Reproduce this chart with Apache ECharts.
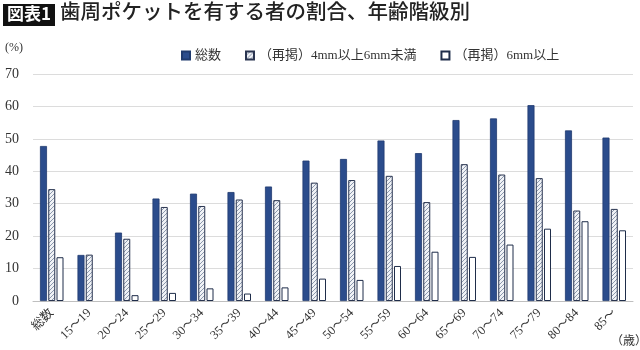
<!DOCTYPE html>
<html><head><meta charset="utf-8">
<script src="https://cdn.jsdelivr.net/npm/echarts@6/dist/echarts.min.js"></script>
<style>html,body{margin:0;padding:0;background:#fff}#c{width:640px;height:350px}</style>
</head><body><div id="c"></div>
<script>
const categories = ['総数','15～19','20～24','25～29','30～34','35～39','40～44','45～49','50～54','55～59','60～64','65～69','70～74','75～79','80～84','85～'];
const seriesNames = ['総数','（再掲）4mm以上6mm未満','（再掲）6mm以上'];
const totalValues = [47.8,14.2,21.1,31.6,33.1,33.6,35.3,43.3,43.8,49.5,45.6,55.8,56.3,60.4,52.6,50.4];
const mid4to6Values = [34.5,14.3,19.2,29.0,29.3,31.3,31.1,36.5,37.3,38.6,30.5,42.2,39.0,37.9,27.9,28.4];
const over6Values = [13.5,null,1.8,2.5,3.9,2.3,4.2,6.9,6.5,10.8,15.2,13.6,17.4,22.3,24.6,21.8];
const yTicks = [0,10,20,30,40,50,60,70];

const pc = document.createElement('canvas');
pc.width = 4; pc.height = 4;
const g = pc.getContext('2d');
g.fillStyle = '#f0f2f6'; g.fillRect(0,0,4,4);
g.strokeStyle = '#8c98ad'; g.lineWidth = 1;
g.beginPath(); g.moveTo(0,4); g.lineTo(4,0); g.moveTo(-1,1); g.lineTo(1,-1); g.moveTo(3,5); g.lineTo(5,3); g.stroke();

const serifFont = '"Liberation Serif","DejaVu Serif","Noto Sans CJK JP",serif';
const chart = echarts.init(document.getElementById('c'));
chart.setOption({
  animation:false,
  backgroundColor:'#fff',
  grid:{left:33,right:7,top:74,bottom:49,containLabel:false},
  legend:{left:176,top:44,itemWidth:8,itemHeight:8,itemGap:24,icon:'rect',
    textStyle:{fontSize:13,color:'#333',fontFamily:serifFont},
    data:seriesNames},
  xAxis:{type:'category',data:categories,
    axisLine:{lineStyle:{color:'#bfbfbf'}},axisTick:{show:false},
    axisLabel:{rotate:45,interval:0,fontSize:12.5,color:'#333',fontFamily:serifFont,margin:10}},
  yAxis:{type:'value',min:yTicks[0],max:yTicks[yTicks.length-1],interval:10,
    axisLine:{show:false},axisTick:{show:false},
    axisLabel:{fontSize:14,color:'#333',fontFamily:serifFont,margin:14},
    splitLine:{lineStyle:{color:'#dcdcdc'}}},
  series:[
    {name:seriesNames[0],type:'bar',data:totalValues,barWidth:7,barGap:'18%',
      itemStyle:{color:'#2b4c8c',borderColor:'#1f3a6e',borderWidth:0.8}},
    {name:seriesNames[1],type:'bar',data:mid4to6Values,barWidth:7,barGap:'18%',
      itemStyle:{color:{image:pc,repeat:'repeat'},borderColor:'#2a3550',borderWidth:1}},
    {name:seriesNames[2],type:'bar',data:over6Values,barWidth:7,barGap:'18%',
      itemStyle:{color:'#ffffff',borderColor:'#1f2d4a',borderWidth:1}}
  ],
  graphic:[
    {type:'rect',left:3,top:4,shape:{width:52,height:22},style:{fill:'#111'}},
    {type:'text',left:7,top:5,style:{text:'図表1',fill:'#fff',font:'bold 17px "Noto Sans CJK JP"'}},
    {type:'text',left:60,top:1,style:{text:'歯周ポケットを有する者の割合、年齢階級別',fill:'#222',font:'500 20.5px "Noto Sans CJK JP"'}},
    {type:'text',left:5,top:42,style:{text:'(%)',fill:'#333',font:'12px "Liberation Serif"'}},
    {type:'text',left:611,top:334,style:{text:'（歳）',fill:'#333',font:'12px "Noto Sans CJK JP"'}}
  ]
});
</script></body></html>
